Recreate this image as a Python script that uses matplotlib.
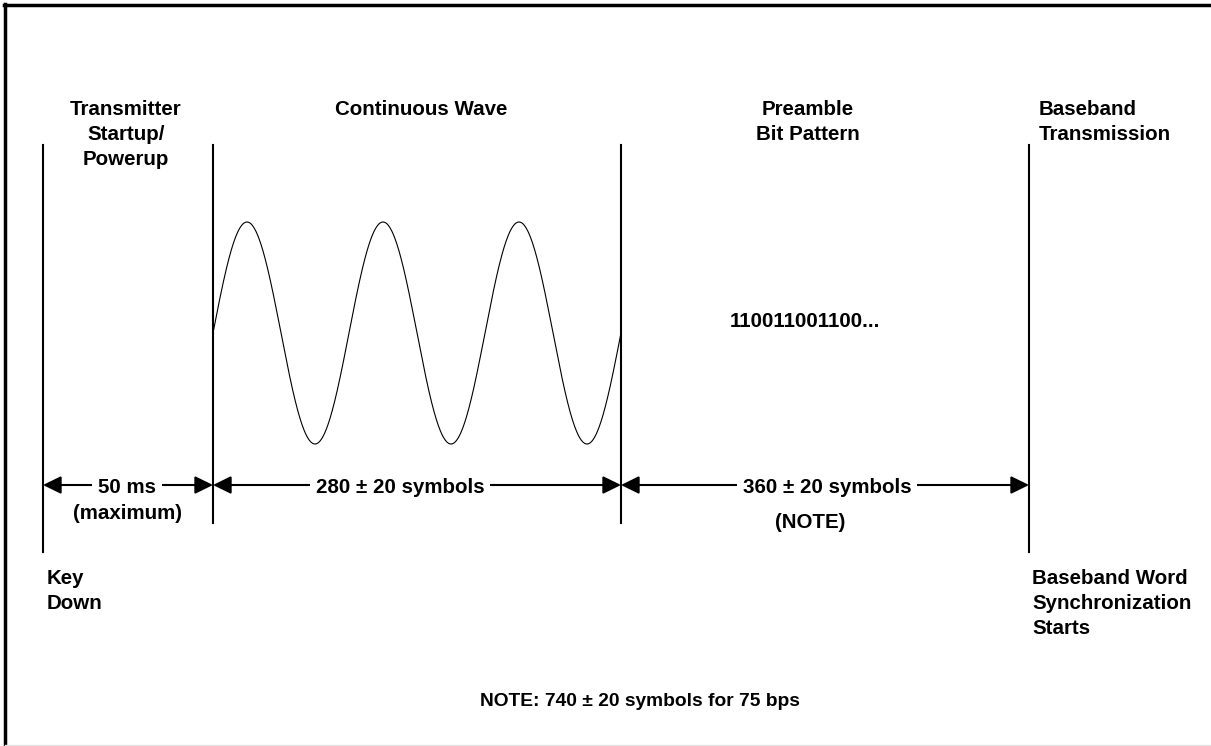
import matplotlib
matplotlib.use("Agg")
import matplotlib.pyplot as plt
import numpy as np

plt.rcParams['font.family'] = ['Liberation Sans', 'DejaVu Sans']

# time line boundaries: key down, CW start, preamble start, baseband start
marks_x = [43, 213, 621, 1029]
marks_end = [552, 523, 523, 552]
mark_top = 145

phase_titles = [["Transmitter", "Startup/", "Powerup"],
                ["Continuous Wave"],
                ["Preamble", "Bit Pattern"]]
phase_title_x = [126, 421, 808]

durations = ["50 ms", "280 \u00b1 20 symbols", "360 \u00b1 20 symbols"]
duration_x = [127, 400, 827]
duration_sub = ["(maximum)", "", "(NOTE)"]
duration_sub_x = [128, 417, 810]
duration_sub_y = [519, 519, 528]

cw_cycles = 3
preamble_bits = "110011001100..."
key_label = ["Key", "Down"]
sync_label = ["Baseband Word", "Synchronization", "Starts"]
baseband_label = ["Baseband", "Transmission"]
note = "NOTE: 740 \u00b1 20 symbols for 75 bps"

fs = 14.8
fig = plt.figure(figsize=(12.11, 7.46), dpi=100)
ax = fig.add_axes([0, 0, 1, 1])
ax.set_xlim(0, 1211)
ax.set_ylim(746, 0)
ax.axis('off')

# frame
ax.plot([5, 5], [4, 746], color='black', lw=2.5)
ax.plot([4, 1211], [4.5, 4.5], color='black', lw=2.5)
ax.plot([5, 1211], [744.5, 744.5], color='#e4e4e4', lw=1)

for x, yb in zip(marks_x, marks_end):
    ax.plot([x, x], [mark_top, yb], color='black', lw=1.5)

# phase titles above the lines
for lines, x in zip(phase_titles, phase_title_x):
    for i, s in enumerate(lines):
        ax.text(x, 115 + 25 * i, s, ha='center', va='baseline',
                fontsize=fs, fontweight='bold')
for i, s in enumerate(baseband_label):
    ax.text(1039, 115 + 25 * i, s, ha='left', va='baseline',
            fontsize=fs, fontweight='bold')

# continuous wave
xs = np.linspace(marks_x[1], marks_x[2], 800)
ys = 333 - 111 * np.sin(2 * np.pi * cw_cycles * (xs - marks_x[1]) / (marks_x[2] - marks_x[1]))
ax.plot(xs, ys, color='black', lw=0.8)

ax.text(805, 327, preamble_bits, ha='center', va='baseline',
        fontsize=fs, fontweight='bold')

# duration arrows
arrow_y = 485
for i in range(3):
    ax.annotate('', xy=(marks_x[i + 1], arrow_y), xytext=(marks_x[i], arrow_y),
                arrowprops=dict(arrowstyle='<|-|>,head_length=0.55,head_width=0.27',
                                mutation_scale=20, color='black', lw=1.5,
                                shrinkA=0, shrinkB=0), zorder=2)
    ax.text(duration_x[i], 493, durations[i], ha='center', va='baseline',
            fontsize=fs, fontweight='bold', zorder=3,
            bbox=dict(boxstyle='square,pad=0.3', fc='white', ec='none'))
    if duration_sub[i]:
        ax.text(duration_sub_x[i], duration_sub_y[i], duration_sub[i], ha='center',
                va='baseline', fontsize=fs, fontweight='bold', zorder=4)

for i, s in enumerate(key_label):
    ax.text(47, 584 + 25 * i, s, ha='left', va='baseline',
            fontsize=fs, fontweight='bold')
for i, s in enumerate(sync_label):
    ax.text(1032, 584 + 25 * i, s, ha='left', va='baseline',
            fontsize=fs, fontweight='bold')

ax.text(640, 706, note, ha='center', va='baseline', fontsize=13.8, fontweight='bold')

fig.savefig('out.png', dpi=100)
